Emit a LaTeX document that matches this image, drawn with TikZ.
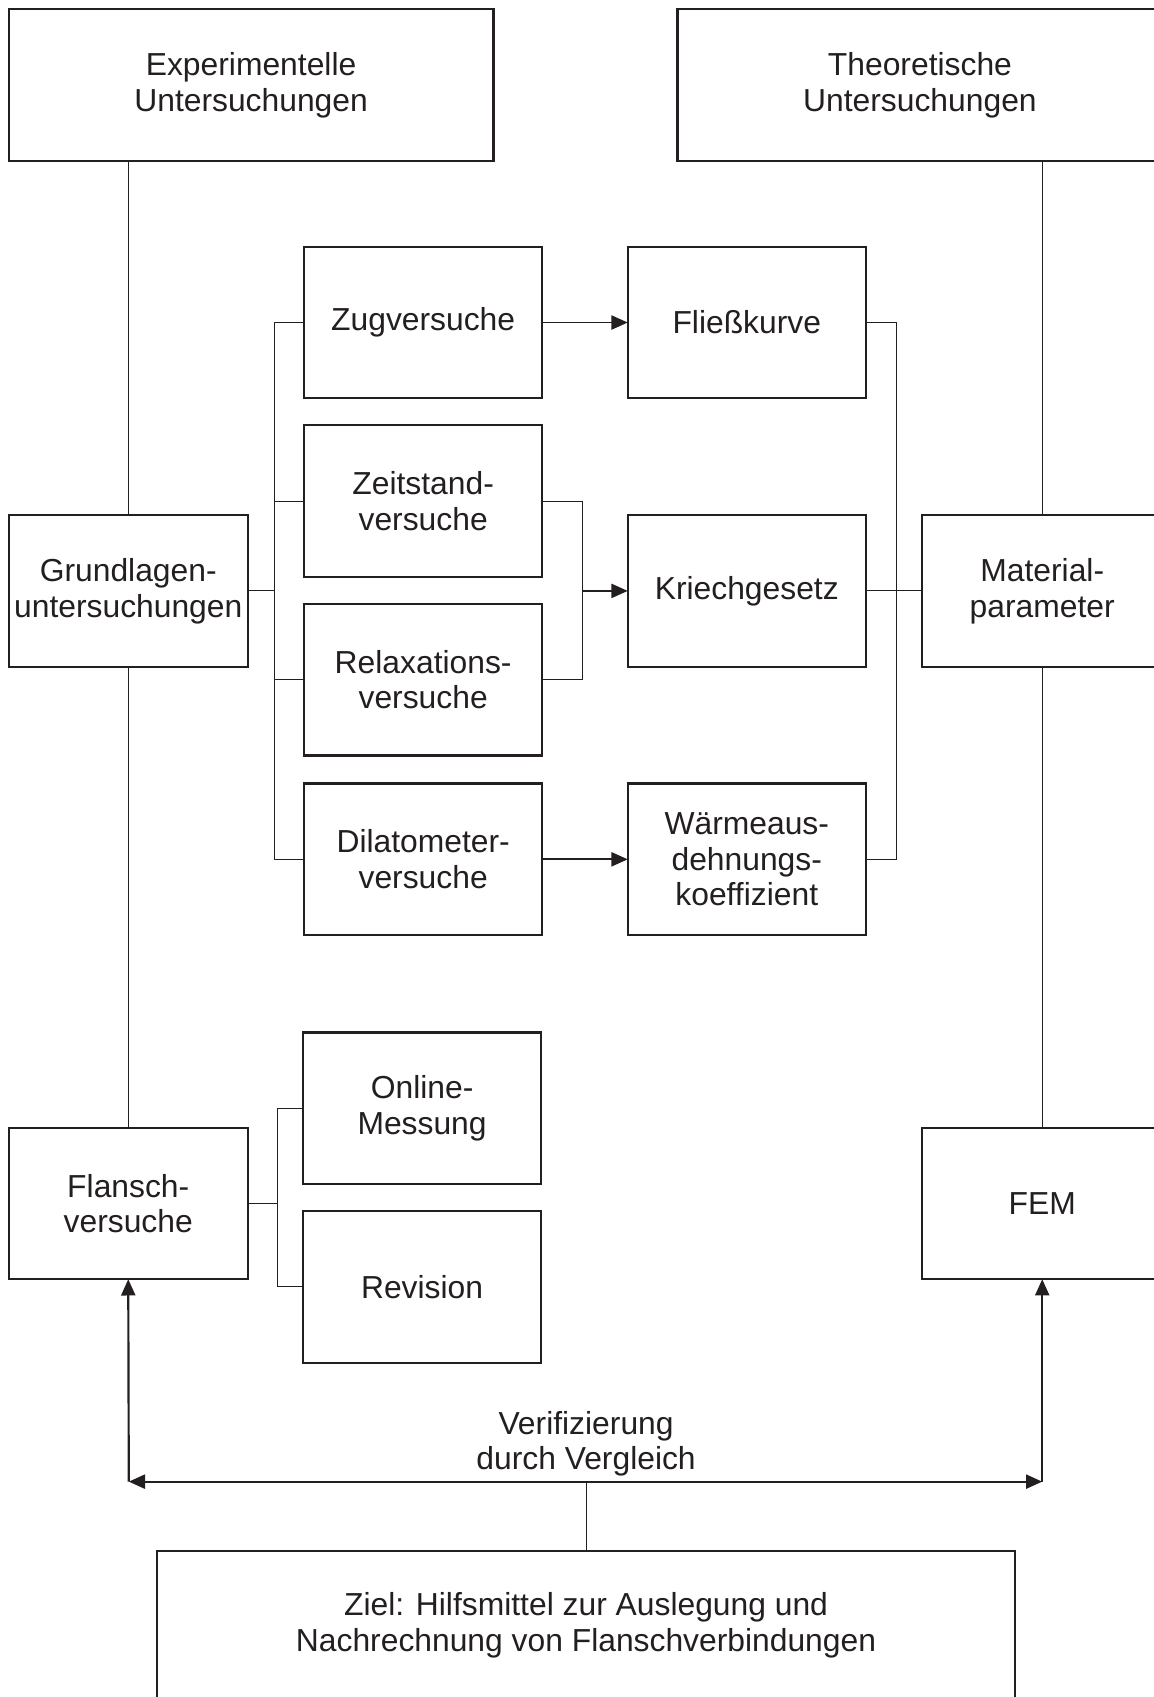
\documentclass[tikz,border=0pt]{standalone}
\usepackage{fontspec}
\setmainfont{Liberation Sans}
\usetikzlibrary{arrows.meta,calc}
\definecolor{ink}{HTML}{231F20}
\begin{document}
\begin{tikzpicture}[x=0.5pt,y=-0.5pt,
  box/.style={draw=ink,line width=1pt,inner sep=0pt,outer sep=0pt,
    minimum width=110pt,minimum height=70pt,align=center,text=ink,
    font=\fontsize{14.7pt}{16.5pt}\selectfont},
  conn/.style={draw=ink,line width=0.5pt},
  arr/.style={draw=ink,line width=0.8pt,-{Triangle[length=7.5pt,width=6.5pt]}},
  varr/.style={draw=ink,line width=1pt},
  tip/.style={-{Triangle[length=7.5pt,width=6.5pt]}}]
\useasboundingbox (0,0) rectangle (1066,1568);
\fill[white] (0,0) rectangle (1066,1568);
% top boxes
\node[box,minimum width=224pt,minimum height=70.5pt] (exp) at (232,78.5) {Experimentelle\\Untersuchungen};
\node[box,minimum width=224pt,minimum height=70.5pt] (theo) at (850,78.5) {Theoretische\\Untersuchungen};
% side boxes
\node[box,minimum width=110.5pt] (grund) at (118.5,546) {Grundlagen-\\untersuchungen};
\node[box,minimum width=111pt] (mat) at (963,546) {Material-\\parameter};
\node[box,minimum width=110.5pt] (flansch) at (118.5,1112) {Flansch-\\versuche};
\node[box,minimum width=111pt] (fem) at (963,1112) {FEM};
% experiments
\node[box] (zug) at (391,298) {Zugversuche};
\node[box] (zeit) at (391,463) {Zeitstand-\\versuche};
\node[box] (rel) at (391,628) {Relaxations-\\versuche};
\node[box] (dil) at (391,794) {Dilatometer-\\versuche};
% results
\node[box] (fl) at (690,298) {Fließkurve};
\node[box] (kr) at (690,546) {Kriechgesetz};
\node[box] (wa) at (690,794) {Wärmeaus-\\dehnungs-\\koeffizient};
% flange tests
\node[box] (on) at (390,1024) {Online-\\Messung};
\node[box] (rev) at (390,1189) {Revision};
% goal
\node[box,minimum width=396.5pt,minimum height=69pt] (ziel) at (541.5,1502) {Ziel: Hilfsmittel zur Auslegung und\\Nachrechnung von Flanschverbindungen};
% verticals
\draw[conn] (grund.north) -- (grund.north |- exp.south);
\draw[conn] (mat.north) -- (mat.north |- theo.south);
\draw[conn] (grund.south) -- (flansch.north);
\draw[conn] (mat.south) -- (fem.north);
% left bracket
\coordinate (lb1) at (254,298);
\coordinate (lb4) at (254,794);
\draw[conn] (zug.west) -- (lb1) -- (lb4) -- (dil.west);
\draw[conn] (zeit.west) -- (zeit.west -| lb1);
\draw[conn] (rel.west) -- (rel.west -| lb1);
\draw[conn] (grund.east) -- (grund.east -| lb1);
% middle bracket
\coordinate (mb) at (538,463);
\draw[conn] (zeit.east) -- (zeit.east -| mb) -- (rel.east -| mb) -- (rel.east);
\draw[arr] (mb |- kr.west) -- (kr.west);
\draw[arr] (zug.east) -- (fl.west);
\draw[arr] (dil.east) -- (wa.west);
% right bracket
\coordinate (rb) at (828,298);
\draw[conn] (fl.east) -- (rb) -- (rb |- wa.east) -- (wa.east);
\draw[conn] (kr.east) -- (mat.west);
% flange bracket
\coordinate (fb) at (256,1024);
\draw[conn] (on.west) -- (fb) -- (fb |- rev.west) -- (rev.west);
\draw[conn] (flansch.east) -- (flansch.east -| fb);
% verification
\coordinate (vl) at (119,1369);
\coordinate (vr) at (963,1369);
\coordinate (vm) at (541.5,1369);
\draw[varr,tip] (vl) -- (flansch.south);
\draw[varr,tip] (vr) -- (fem.south);
\draw[varr,{Triangle[length=7.5pt,width=6.5pt]}-{Triangle[length=7.5pt,width=6.5pt]}] (vl) -- (vr);
\node[align=center,text=ink,inner sep=0pt,font=\fontsize{14.7pt}{16.5pt}\selectfont] (verif) at (541.5,1334) {Verifizierung\\durch Vergleich};
\draw[conn] (vm) -- (ziel.north);
\end{tikzpicture}
\end{document}
